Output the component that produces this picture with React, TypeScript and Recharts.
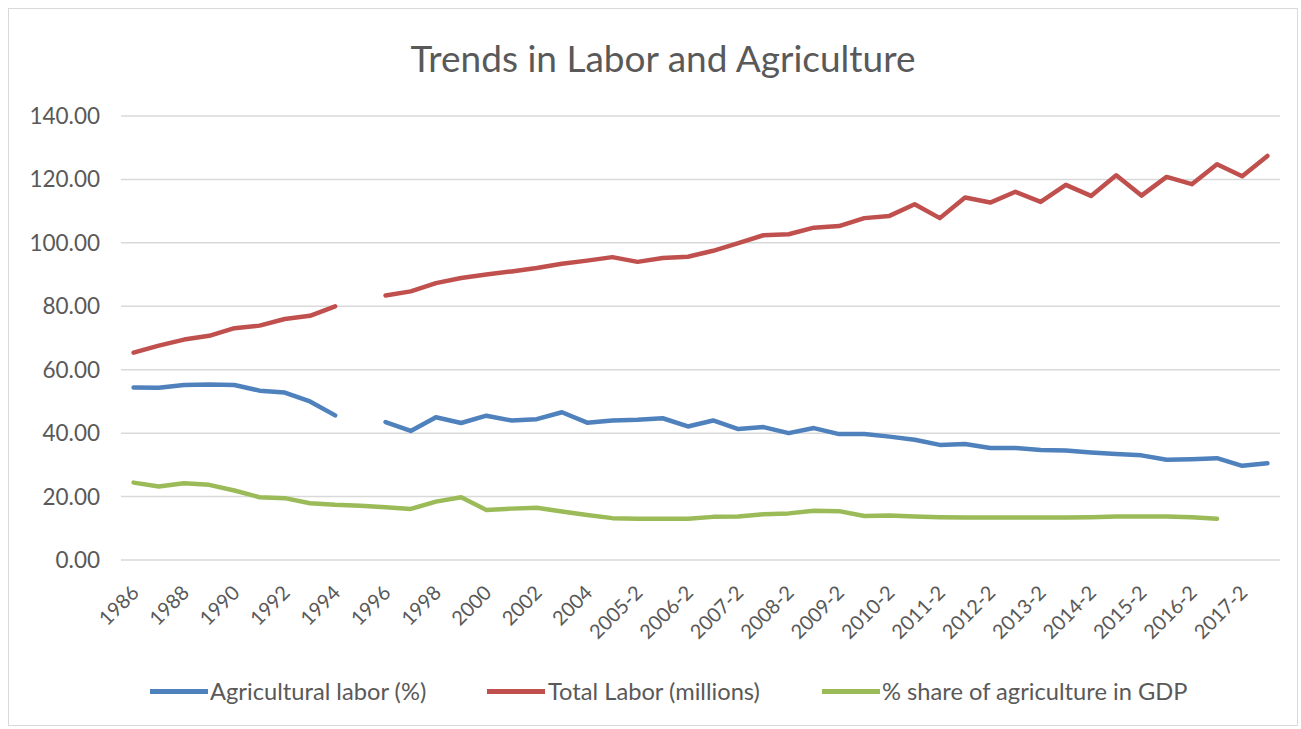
import React from 'react';
import { LineChart, Line, XAxis, YAxis, CartesianGrid } from 'recharts';

const categories: string[] = [
  '1986', '1987', '1988', '1989', '1990', '1991', '1992', '1993', '1994', '1995',
  '1996', '1997', '1998', '1999', '2000', '2001', '2002', '2003', '2004',
  '2005-1', '2005-2', '2006-1', '2006-2', '2007-1', '2007-2', '2008-1', '2008-2',
  '2009-1', '2009-2', '2010-1', '2010-2', '2011-1', '2011-2', '2012-1', '2012-2',
  '2013-1', '2013-2', '2014-1', '2014-2', '2015-1', '2015-2', '2016-1', '2016-2',
  '2017-1', '2017-2', '2018-1',
];

const agriculturalLabor: (number | null)[] = [
  54.4, 54.3, 55.2, 55.3, 55.2, 53.4, 52.8, 50.0, 45.6, null,
  43.5, 40.7, 45.0, 43.2, 45.5, 44.0, 44.4, 46.6, 43.3,
  44.0, 44.2, 44.7, 42.1, 44.0, 41.3, 41.9, 40.0,
  41.6, 39.7, 39.7, 38.9, 37.9, 36.3, 36.6, 35.3,
  35.3, 34.7, 34.5, 33.9, 33.4, 33.0, 31.6, 31.8,
  32.1, 29.7, 30.5,
];

const totalLabor: (number | null)[] = [
  65.4, 67.6, 69.5, 70.7, 73.1, 73.9, 76.0, 77.0, 80.0, null,
  83.4, 84.7, 87.3, 88.9, 90.0, 91.0, 92.1, 93.4, 94.4,
  95.5, 94.0, 95.2, 95.6, 97.5, 99.9, 102.4, 102.7,
  104.8, 105.3, 107.8, 108.5, 112.2, 107.8, 114.3, 112.7,
  116.1, 112.9, 118.3, 114.8, 121.3, 114.9, 120.8, 118.5,
  124.8, 121.0, 127.4,
];

const agricultureGdpShare: (number | null)[] = [
  24.4, 23.2, 24.2, 23.7, 21.9, 19.8, 19.5, 17.9, 17.4, 17.1,
  16.6, 16.1, 18.4, 19.8, 15.8, 16.2, 16.5, 15.3, 14.2,
  13.2, 13.0, 13.0, 13.0, 13.6, 13.7, 14.4, 14.7,
  15.5, 15.4, 13.9, 14.0, 13.7, 13.5, 13.4, 13.4,
  13.4, 13.4, 13.4, 13.5, 13.7, 13.7, 13.7, 13.5,
  13.0, null, null,
];

const yTicks: number[] = [0, 20, 40, 60, 80, 100, 120, 140];

const seriesNames = {
  agri: 'Agricultural labor (%)',
  total: 'Total Labor (millions)',
  gdp: '% share of agriculture in GDP',
};

const COLORS = {
  agri: '#4F81BD',
  total: '#C0504D',
  gdp: '#9BBB59',
};

const data = categories.map((c, i) => ({
  name: c,
  agri: agriculturalLabor[i],
  total: totalLabor[i],
  gdp: agricultureGdpShare[i],
}));

const FONT = 'Lato, "Open Sans", sans-serif';
const TEXT = '#595959';

const XTick = (props: any) => {
  const { x, y, payload } = props;
  const ax = x + 6.5;
  const ay = y + 34;
  return (
    <text
      x={ax}
      y={ay}
      textAnchor="end"
      fill={TEXT}
      fontSize={20}
      fontFamily={FONT}
      transform={`rotate(-45, ${ax}, ${ay})`}
    >
      {payload.value}
    </text>
  );
};

const legendItems = [
  { key: 'agri', lineLeft: 150, textLeft: 210 },
  { key: 'total', lineLeft: 487, textLeft: 548 },
  { key: 'gdp', lineLeft: 822, textLeft: 882 },
] as const;

export default function App() {
  return (
    <div
      style={{
        position: 'fixed',
        left: 0,
        top: 0,
        width: 1301,
        height: 729,
        background: '#ffffff',
        fontFamily: FONT,
      }}
    >
      <div
        style={{
          position: 'absolute',
          left: 8,
          top: 8,
          width: 1290,
          height: 718,
          border: '1px solid #d9d9d9',
          boxSizing: 'border-box',
        }}
      />
      <div
        style={{
          position: 'absolute',
          left: 0,
          top: 35,
          width: 1326,
          textAlign: 'center',
          fontSize: 37,
          lineHeight: '46px',
          color: TEXT,
        }}
      >
        Trends in Labor and Agriculture
      </div>
      <div style={{ position: 'absolute', left: 0, top: 0 }}>
        <LineChart
          width={1301}
          height={729}
          data={data}
          margin={{ top: 116, right: 21, bottom: 69, left: 0 }}
        >
          <CartesianGrid vertical={false} stroke="#d9d9d9" strokeWidth={1.5} />
          <XAxis
            dataKey="name"
            interval={1}
            height={100}
            axisLine={false}
            tickLine={false}
            tickSize={0}
            tickMargin={0}
            padding={{ left: 12.6, right: 12.6 }}
            tick={<XTick />}
          />
          <YAxis
            width={121}
            domain={[0, 140]}
            ticks={yTicks}
            axisLine={false}
            tickLine={false}
            tickSize={0}
            tickMargin={21}
            tickFormatter={(v: number) => v.toFixed(2)}
            tick={{ fill: TEXT, fontSize: 22.5, fontFamily: FONT }}
          />
          <Line
            type="linear"
            dataKey="agri"
            name={seriesNames.agri}
            stroke={COLORS.agri}
            strokeWidth={4.5}
            dot={false}
            activeDot={false}
            strokeLinejoin="round"
            strokeLinecap="round"
            isAnimationActive={false}
          />
          <Line
            type="linear"
            dataKey="total"
            name={seriesNames.total}
            stroke={COLORS.total}
            strokeWidth={4.5}
            dot={false}
            activeDot={false}
            strokeLinejoin="round"
            strokeLinecap="round"
            isAnimationActive={false}
          />
          <Line
            type="linear"
            dataKey="gdp"
            name={seriesNames.gdp}
            stroke={COLORS.gdp}
            strokeWidth={4.5}
            dot={false}
            activeDot={false}
            strokeLinejoin="round"
            strokeLinecap="round"
            isAnimationActive={false}
          />
        </LineChart>
      </div>
      {legendItems.map((item) => (
        <React.Fragment key={item.key}>
          <div
            style={{
              position: 'absolute',
              left: item.lineLeft,
              top: 689,
              width: 58,
              height: 4.5,
              background: COLORS[item.key],
            }}
          />
          <div
            style={{
              position: 'absolute',
              left: item.textLeft,
              top: 676,
              fontSize: 23.7,
              lineHeight: '30px',
              color: TEXT,
              whiteSpace: 'nowrap',
            }}
          >
            {seriesNames[item.key]}
          </div>
        </React.Fragment>
      ))}
    </div>
  );
}
